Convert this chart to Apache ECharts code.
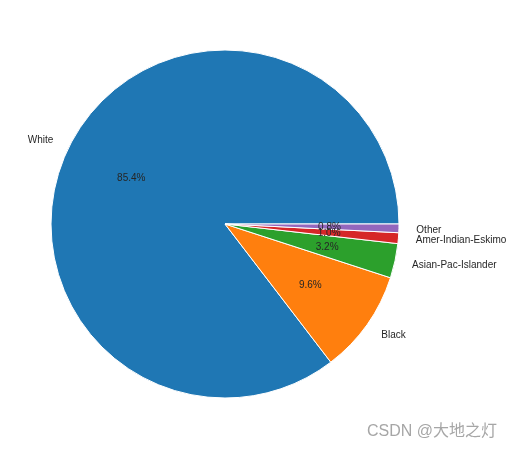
<!DOCTYPE html>
<html>
<head>
<meta charset="utf-8">
<style>
  html, body { margin: 0; padding: 0; background: #fff; }
  #main { width: 513px; height: 449px; }
</style>
<script src="https://cdn.jsdelivr.net/npm/echarts@6/dist/echarts.min.js"></script>
</head>
<body>
<div id="main"></div>
<script>
const categories = ['White', 'Black', 'Asian-Pac-Islander', 'Amer-Indian-Eskimo', 'Other'];
const shares = [85.4, 9.6, 3.2, 1.0, 0.8];
const sliceColors = ['#1f77b4', '#ff7f0e', '#2ca02c', '#d62728', '#9467bd'];

const pieData = categories.map((name, i) => ({ name: name, value: shares[i] }));
const textColor = '#262626';
const fontFamily = '"Liberation Sans", Arial, sans-serif';

const chart = echarts.init(document.getElementById('main'));
chart.setOption({
  animation: false,
  color: sliceColors,
  series: [
    {
      // the visible slices, category names outside
      type: 'pie',
      center: [225, 224],
      radius: [0, 174],
      startAngle: 0,
      clockwise: false,
      avoidLabelOverlap: false,
      data: pieData,
      itemStyle: { borderColor: '#ffffff', borderWidth: 1 },
      label: {
        show: true,
        position: 'outer',
        alignTo: 'none',
        distanceToLabelLine: 0,
        offset: [0, 1],
        color: textColor,
        fontFamily: fontFamily,
        fontSize: 10,
      },
      labelLine: { show: false, length: 17.4, length2: 0 },
      labelLayout: { hideOverlap: false },
      emphasis: { disabled: true },
      silent: true,
    },
    {
      // invisible pie, only there to put the percentages at 0.6 of the radius
      type: 'pie',
      center: [225, 224],
      radius: [0, 203],
      startAngle: 0,
      clockwise: false,
      avoidLabelOverlap: false,
      data: pieData,
      itemStyle: { color: 'transparent', borderWidth: 0 },
      label: {
        show: true,
        position: 'inside',
        offset: [0, 1],
        formatter: params => params.value.toFixed(1) + '%',
        color: textColor,
        fontFamily: fontFamily,
        fontSize: 10,
      },
      labelLine: { show: false },
      labelLayout: { hideOverlap: false },
      emphasis: { disabled: true },
      silent: true,
    },
  ],
  graphic: [
    {
      type: 'text',
      left: 367,
      top: 424,
      style: {
        text: 'CSDN @大地之灯',
        fill: '#a6a6a6',
        font: '16px "Liberation Sans", "Noto Sans CJK SC", sans-serif',
      },
    },
  ],
});
</script>
</body>
</html>
